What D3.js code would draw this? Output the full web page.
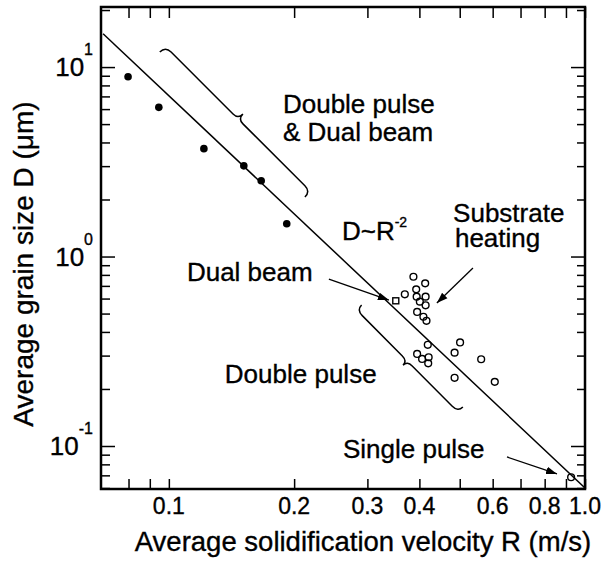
<!DOCTYPE html>
<html>
<head>
<meta charset="utf-8">
<script src="https://cdn.jsdelivr.net/npm/d3@7"></script>
<style>
  body { margin: 0; background: #fff; }
  svg text { font-family: "Liberation Sans", Arial, Helvetica, sans-serif; fill: #000; stroke: #000; stroke-width: 0.35px; }
</style>
</head>
<body>
<svg id="chart" width="612" height="563"></svg>
<script>
// values, R in m/s and D in um
const dualR = [0.0798, 0.0946, 0.1214, 0.1514, 0.1667, 0.192];
const dualD = [8.89, 6.13, 3.71, 3.01, 2.51, 1.49];

const pulseR = [0.387, 0.413, 0.393, 0.369, 0.394, 0.414, 0.401, 0.414, 0.395, 0.409, 0.416,
                0.419, 0.501, 0.486, 0.395, 0.406, 0.421, 0.420, 0.563, 0.486, 0.607, 0.926];
const pulseD = [0.782, 0.722, 0.671, 0.632, 0.614, 0.614, 0.578, 0.553, 0.510, 0.481, 0.458,
                0.342, 0.352, 0.311, 0.306, 0.288, 0.294, 0.273, 0.287, 0.229, 0.218, 0.0684];

const beamR = [0.351];
const beamD = [0.584];

// D ~ R^-2 guide line
const fitR = [0.0695, 1.0];
const fitD = [15.0, 0.060];

const xLabelVals = [0.1, 0.2, 0.3, 0.4, 0.6, 0.8, 1.0];
const xLabels = ["0.1", "0.2", "0.3", "0.4", "0.6", "0.8", "1.0"];
const xTicks = [0.08, 0.09, 0.1, 0.2, 0.3, 0.4, 0.5, 0.6, 0.7, 0.8, 0.9, 1.0];
const yMajor = [0.1, 1, 10];
const yExp = ["-1", "0", "1"];
const yMinor = [0.06, 0.07, 0.08, 0.09, 0.2, 0.3, 0.4, 0.5, 0.6, 0.7, 0.8, 0.9,
                2, 3, 4, 5, 6, 7, 8, 9, 20];

// annotations, anchored in data space
const notes = [
  {t: "Double pulse", r: 0.188, d: 5.72},
  {t: "& Dual beam", r: 0.188, d: 4.07},
  {t: "Substrate", r: 0.482, d: 1.53},
  {t: "heating", r: 0.487, d: 1.12},
  {t: "Dual beam", r: 0.1105, d: 0.742},
  {t: "Double pulse", r: 0.1363, d: 0.215},
  {t: "Single pulse", r: 0.262, d: 0.0864}
];
const arrows = [
  [[0.2424, 0.7608], [0.3379, 0.5894]],
  [[0.538, 0.8695], [0.4406, 0.5682]],
  [[0.6494, 0.0875], [0.8565, 0.0712]]
];
const braces = [
  {from: [0.0951, 12.0], to: [0.2123, 2.06], side: 1, h: 8, t: 7},
  {from: [0.2905, 0.5546], to: [0.5088, 0.1606], side: -1, h: 7, t: 6}
];

const width = 612, height = 563;
const margin = {top: 7, right: 27, bottom: 74, left: 101};

const svg = d3.select("#chart");

const x = d3.scaleLog().domain([0.0687, 1.0]).range([margin.left, width - margin.right]);
const y = d3.scaleLog().domain([0.0593, 20.75]).range([height - margin.bottom, margin.top]);

const x0 = margin.left, x1 = width - margin.right;
const y0 = margin.top, y1 = height - margin.bottom;

svg.append("defs").append("clipPath").attr("id", "plot")
  .append("rect").attr("x", x0).attr("y", y0).attr("width", x1 - x0).attr("height", y1 - y0);

svg.select("defs").append("marker")
  .attr("id", "head")
  .attr("viewBox", "0 0 10 10")
  .attr("refX", 10).attr("refY", 5)
  .attr("markerUnits", "userSpaceOnUse")
  .attr("markerWidth", 11).attr("markerHeight", 11)
  .attr("orient", "auto")
  .append("path").attr("d", "M0,1.5L10,5L0,8.5Z").attr("fill", "#000");

// tick marks, all pointing into the frame
function ticks(axis, tx, ty) {
  const g = svg.append("g").attr("transform", `translate(${tx},${ty})`).call(axis);
  g.select(".domain").remove();
  g.selectAll("line").attr("stroke", "#000").attr("stroke-width", 1.5);
  g.selectAll("text").remove();
}
ticks(d3.axisBottom(x).tickValues(xTicks).tickSize(-10), 0, y1);
ticks(d3.axisTop(x).tickValues(xTicks).tickSize(-11), 0, y0);
ticks(d3.axisLeft(y).tickValues(yMinor).tickSize(-9), x0, 0);
ticks(d3.axisLeft(y).tickValues(yMajor).tickSize(-14), x0, 0);
ticks(d3.axisRight(y).tickValues(yMinor).tickSize(-8), x1, 0);
ticks(d3.axisRight(y).tickValues(yMajor).tickSize(-14), x1, 0);

// frame
svg.append("rect")
  .attr("x", x0).attr("y", y0).attr("width", x1 - x0).attr("height", y1 - y0)
  .attr("fill", "none").attr("stroke", "#000").attr("stroke-width", 2.5);

// tick labels
svg.append("g").selectAll("text").data(xLabelVals).join("text")
  .attr("x", d => x(d)).attr("y", 514)
  .attr("text-anchor", "middle").attr("font-size", 23)
  .text((d, i) => xLabels[i]);

const yl = svg.append("g").selectAll("text").data(yMajor).join("text")
  .attr("x", 93).attr("y", d => y(d) + 9)
  .attr("text-anchor", "end").attr("font-size", 26);
yl.append("tspan").text("10");
yl.append("tspan").attr("font-size", 16).attr("dy", -21).text((d, i) => yExp[i]);

// axis titles
svg.append("text")
  .attr("x", 363).attr("y", 551)
  .attr("text-anchor", "middle").attr("font-size", 27.5)
  .text("Average solidification velocity R (m/s)");

svg.append("text")
  .attr("transform", "translate(33,264) rotate(-90)")
  .attr("text-anchor", "middle").attr("font-size", 28)
  .text("Average grain size D (\u03bcm)");

// guide line
const plot = svg.append("g").attr("clip-path", "url(#plot)");
plot.append("path")
  .datum(fitR.map((r, i) => [r, fitD[i]]))
  .attr("d", d3.line().x(d => x(d[0])).y(d => y(d[1])))
  .attr("fill", "none").attr("stroke", "#000").attr("stroke-width", 1.5);

// points
plot.append("g").selectAll("circle").data(dualR).join("circle")
  .attr("cx", d => x(d)).attr("cy", (d, i) => y(dualD[i]))
  .attr("r", 3.8).attr("fill", "#000");

plot.append("g").selectAll("circle").data(pulseR).join("circle")
  .attr("cx", d => x(d)).attr("cy", (d, i) => y(pulseD[i]))
  .attr("r", 3.4).attr("fill", "none").attr("stroke", "#000").attr("stroke-width", 1.4);

plot.append("g").selectAll("rect").data(beamR).join("rect")
  .attr("x", d => x(d) - 3).attr("y", (d, i) => y(beamD[i]) - 3)
  .attr("width", 6).attr("height", 6)
  .attr("fill", "none").attr("stroke", "#000").attr("stroke-width", 1.4);

// curly braces
function bracePath(p0, p1, side, h, t) {
  const dx = p1[0] - p0[0], dy = p1[1] - p0[1], L = Math.hypot(dx, dy);
  const ux = dx / L, uy = dy / L;
  const nx = side * uy, ny = -side * ux;
  const pt = (u, v) => [p0[0] + ux * u + nx * v, p0[1] + uy * u + ny * v];
  const r = 8, c = 7, m = L / 2;
  const p = d3.path();
  p.moveTo(...pt(0, 0));
  p.quadraticCurveTo(...pt(0, h), ...pt(r, h));
  p.lineTo(...pt(m - c, h));
  p.quadraticCurveTo(...pt(m, h), ...pt(m, h + t));
  p.moveTo(...pt(L, 0));
  p.quadraticCurveTo(...pt(L, h), ...pt(L - r, h));
  p.lineTo(...pt(m + c, h));
  p.quadraticCurveTo(...pt(m, h), ...pt(m, h + t));
  return p.toString();
}

svg.append("g").selectAll("path").data(braces).join("path")
  .attr("d", b => bracePath([x(b.from[0]), y(b.from[1])], [x(b.to[0]), y(b.to[1])], b.side, b.h, b.t))
  .attr("fill", "none").attr("stroke", "#000").attr("stroke-width", 1.5);

// arrows
svg.append("g").selectAll("line").data(arrows).join("line")
  .attr("x1", a => x(a[0][0])).attr("y1", a => y(a[0][1]))
  .attr("x2", a => x(a[1][0])).attr("y2", a => y(a[1][1]))
  .attr("stroke", "#000").attr("stroke-width", 1.3)
  .attr("marker-end", "url(#head)");

// labels
svg.append("g").selectAll("text").data(notes).join("text")
  .attr("x", n => x(n.r)).attr("y", n => y(n.d))
  .attr("font-size", 26)
  .text(n => n.t);

const law = svg.append("text")
  .attr("x", x(0.2606)).attr("y", y(1.222))
  .attr("font-size", 26);
law.append("tspan").text("D~R");
law.append("tspan").attr("font-size", 14).attr("dy", -13).text("-2");
</script>
</body>
</html>
